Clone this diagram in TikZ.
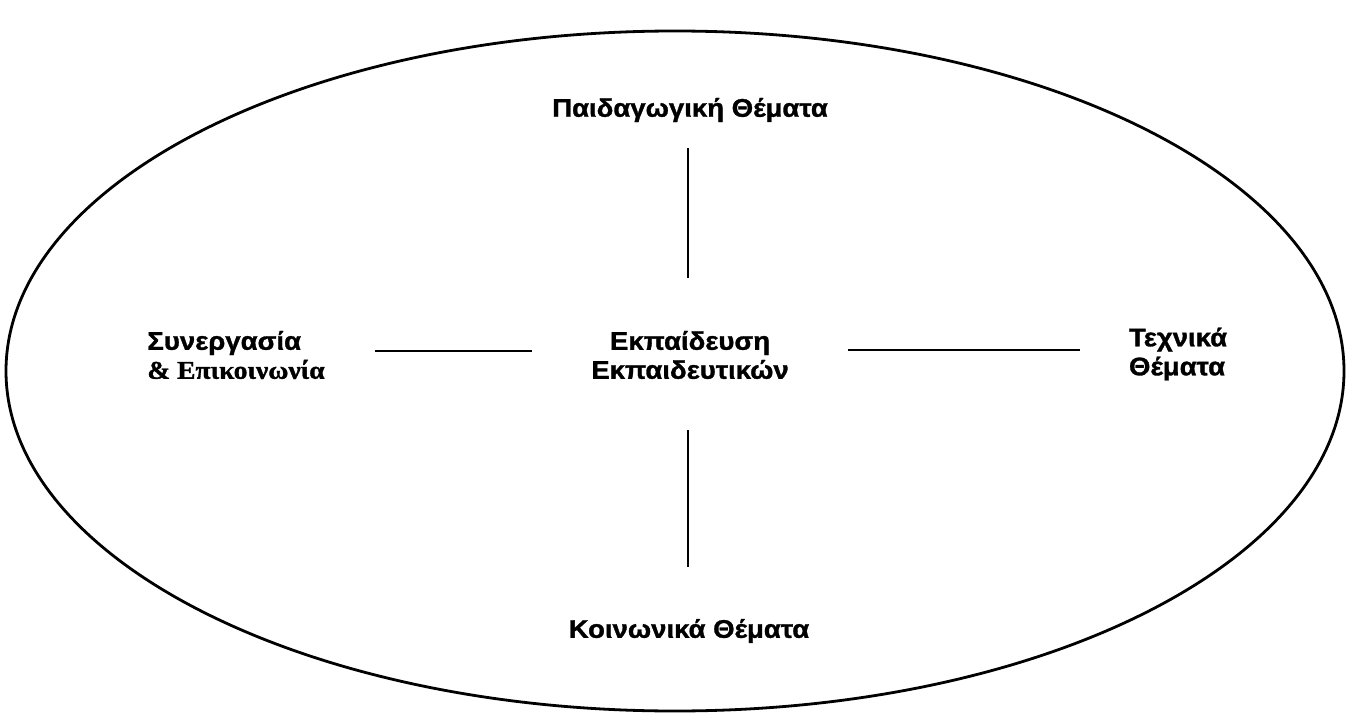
\documentclass[tikz,border=0pt]{standalone}
\usepackage{fontspec}
\setmainfont{Liberation Sans}[FakeStretch=1.08, BoldFeatures={FakeBold=1.2}]
\newfontfamily\serifbold{Liberation Serif}[FakeStretch=1.08, BoldFeatures={FakeBold=1.2}]
\begin{document}
\begin{tikzpicture}[x=1pt,y=-1pt,
  label/.style={font=\fontsize{25.5}{29}\selectfont\bfseries, inner sep=0pt, align=center},
  link/.style={line width=2.4pt}]
\useasboundingbox (0,0) rectangle (1354,714);
\fill[white] (0,0) rectangle (1354,714);
% outer ellipse
\draw[line width=2.8pt] (675,371) ellipse [x radius=669, y radius=340];

% topics
\node[label] (top) at (690,110) {Παιδαγωγική Θέματα};
\node[label] (centre) at (690,355) {Εκπαίδευση\\Εκπαιδευτικών};
\node[label, align=left] (left) at (236,355) {Συνεργασία\\{\serifbold\bfseries \& Επικοινωνία}};
\node[label, align=left] (right) at (1178,354) {Τεχνικά\\Θέματα};
\node[label] (bottom) at (689,631) {Κοινωνικά Θέματα};

% connector ends
\coordinate (t1) at (688,148);
\coordinate (t2) at (688,278);
\coordinate (b1) at (688,430);
\coordinate (b2) at (688,567);
\coordinate (l1) at (375,351);
\coordinate (l2) at (532,351);
\coordinate (r1) at (848,350);
\coordinate (r2) at (1080,350);

\draw[link] (t1) -- (t2);
\draw[link] (b1) -- (b2);
\draw[link] (l1) -- (l2);
\draw[link] (r1) -- (r2);
\end{tikzpicture}
\end{document}
